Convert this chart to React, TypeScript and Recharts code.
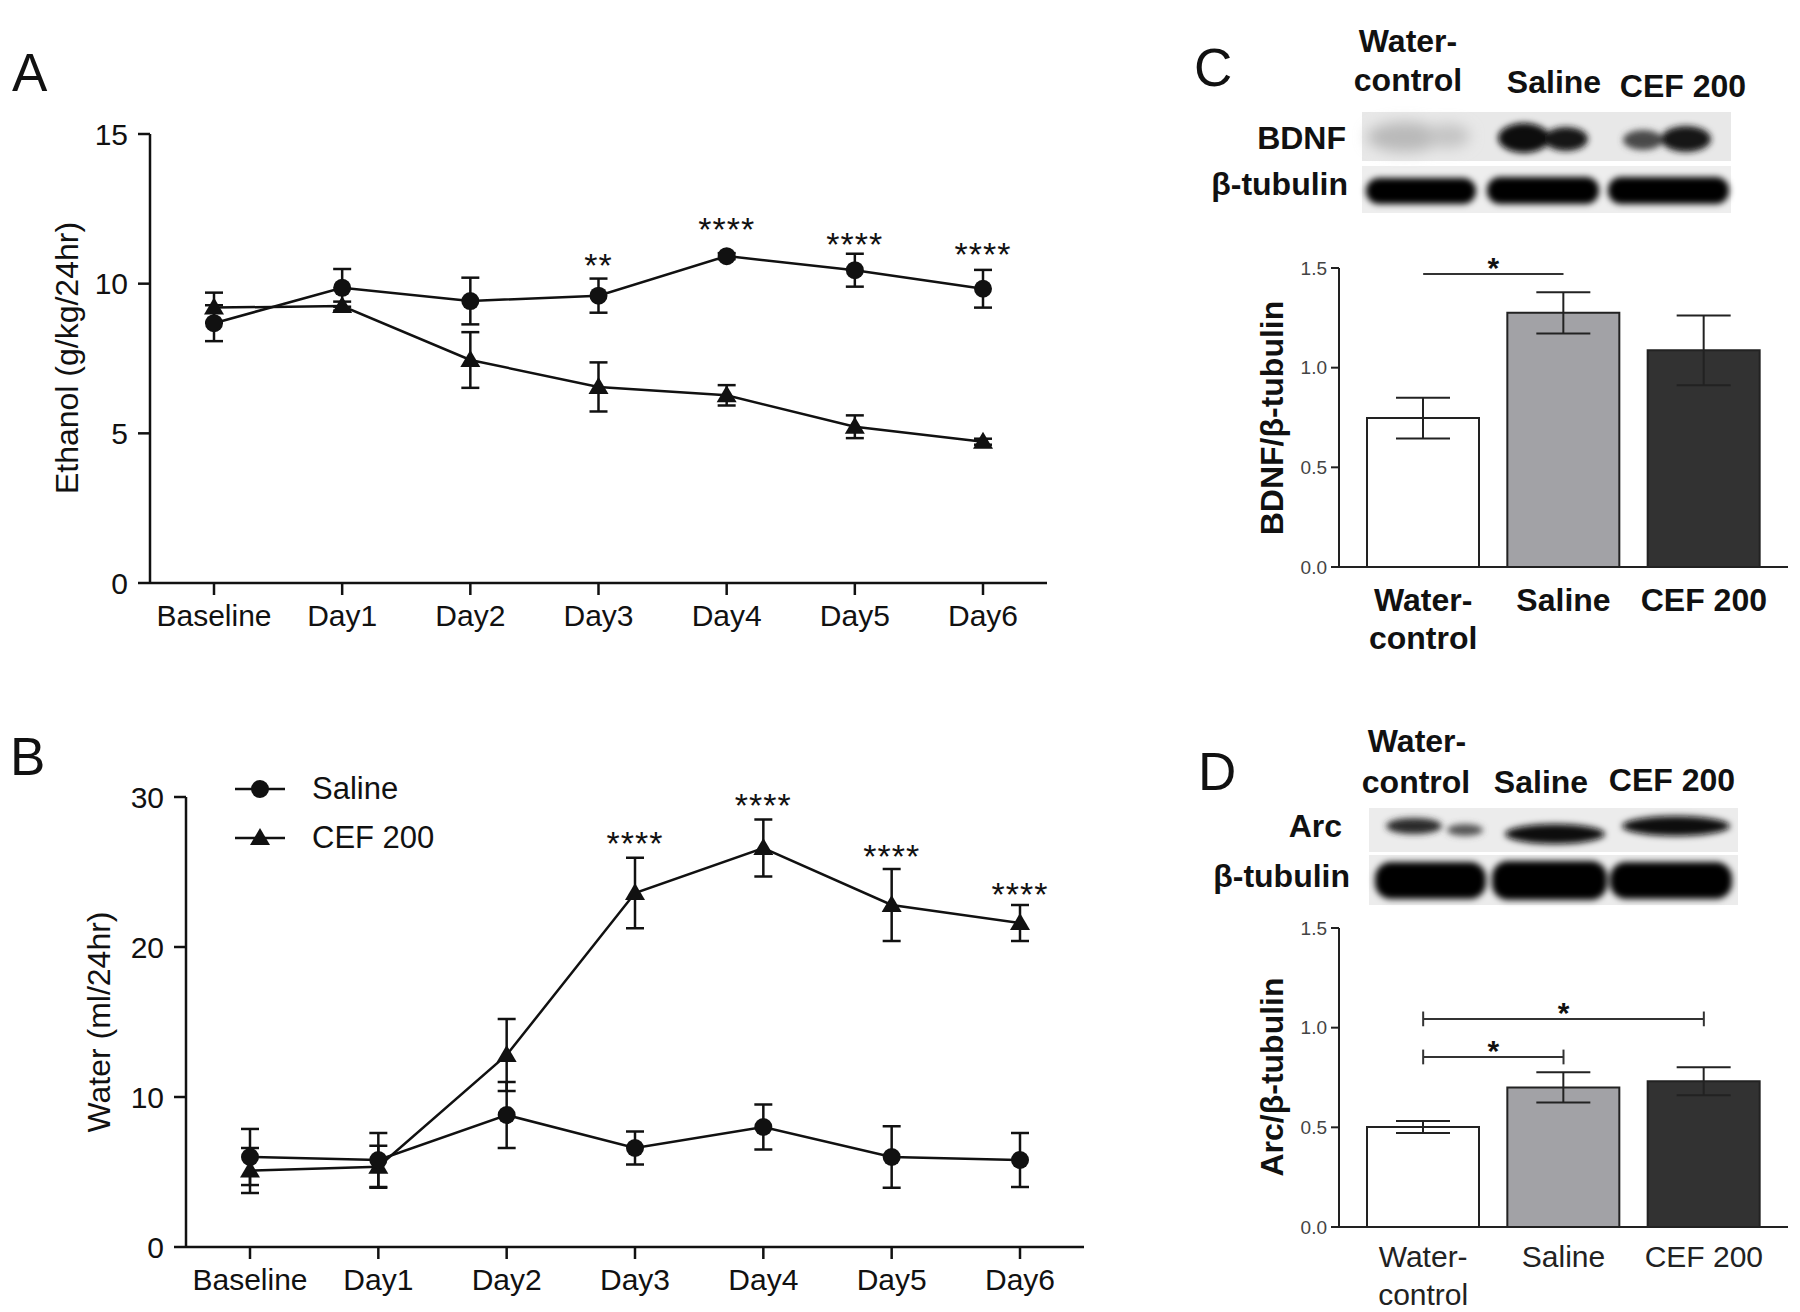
import React from 'react';
import {
  ComposedChart,
  BarChart,
  Bar,
  Line,
  XAxis,
  YAxis,
  ErrorBar,
  Cell,
  ReferenceLine,
  Legend,
} from 'recharts';

const FONT = '"Liberation Sans", Arial, Helvetica, sans-serif';
const INK = '#111';

// ---- A / B: daily intake ----
const days = ['Baseline', 'Day1', 'Day2', 'Day3', 'Day4', 'Day5', 'Day6'];

const ethanolSaline = [8.68, 9.86, 9.42, 9.6, 10.92, 10.45, 9.83];
const ethanolSalineSem = [0.6, 0.63, 0.78, 0.57, 0.1, 0.55, 0.63];
const ethanolCef = [9.2, 9.25, 7.45, 6.55, 6.27, 5.22, 4.72];
const ethanolCefSem = [0.5, 0.15, 0.93, 0.82, 0.34, 0.38, 0.1];
const ethanolStars = ['', '', '', '**', '****', '****', '****'];
const ethanolStarY = [null, null, null, 10.9, 12.1, 11.6, 11.25];

const waterSaline = [6.0, 5.8, 8.8, 6.6, 8.0, 6.0, 5.8];
const waterSalineSem = [1.87, 1.8, 2.2, 1.1, 1.5, 2.05, 1.8];
const waterCef = [5.1, 5.35, 12.8, 23.6, 26.6, 22.8, 21.6];
const waterCefSem = [1.5, 1.4, 2.4, 2.35, 1.9, 2.4, 1.2];
const waterStars = ['', '', '', '****', '****', '****', '****'];
const waterStarY = [null, null, null, 27.5, 30.0, 26.6, 24.05];

// ---- C / D: western blot quantification ----
const groups = ['Water-control', 'Saline', 'CEF 200'];
const groupFills = ['#ffffff', '#a2a2a6', '#323232'];
const bdnfRatio = [0.747, 1.275, 1.087];
const bdnfSem = [0.102, 0.103, 0.175];
const arcRatio = [0.502, 0.7, 0.731];
const arcSem = [0.03, 0.076, 0.07];

const bdnfBrackets = [{ from: 'Water-control', to: 'Saline', y: 1.47 }];
const arcBrackets = [
  { from: 'Water-control', to: 'CEF 200', y: 1.044 },
  { from: 'Water-control', to: 'Saline', y: 0.853 },
];

const ethanolData = days.map((day, i) => ({
  day,
  saline: ethanolSaline[i],
  salineSem: ethanolSalineSem[i],
  cef: ethanolCef[i],
  cefSem: ethanolCefSem[i],
  starY: ethanolStarY[i],
  stars: ethanolStars[i],
}));

const waterData = days.map((day, i) => ({
  day,
  saline: waterSaline[i],
  salineSem: waterSalineSem[i],
  cef: waterCef[i],
  cefSem: waterCefSem[i],
  starY: waterStarY[i],
  stars: waterStars[i],
}));

const bdnfData = groups.map((g, i) => ({ group: g, value: bdnfRatio[i], sem: bdnfSem[i] }));
const arcData = groups.map((g, i) => ({ group: g, value: arcRatio[i], sem: arcSem[i] }));

// markers
const CircleDot = (props: any) => {
  const { cx, cy, index } = props;
  if (cx == null || cy == null) return <g key={`c-${index}`} />;
  return <circle key={`c-${index}`} cx={cx} cy={cy} r={9} fill={INK} />;
};

const TriangleDot = (props: any) => {
  const { cx, cy, index } = props;
  if (cx == null || cy == null) return <g key={`t-${index}`} />;
  return (
    <path
      key={`t-${index}`}
      d={`M${cx},${cy - 10} L${cx + 10},${cy + 7} L${cx - 10},${cy + 7} Z`}
      fill={INK}
    />
  );
};

// significance stars drawn as the "dots" of an invisible series
const StarDot = (props: any) => {
  const { cx, cy, index, payload } = props;
  if (cx == null || cy == null || !payload?.stars) return <g key={`s-${index}`} />;
  return (
    <text
      key={`s-${index}`}
      x={cx}
      y={cy + 20}
      textAnchor="middle"
      fontSize={34}
      fontFamily={FONT}
      fill={INK}
      letterSpacing={1}
    >
      {payload.stars}
    </text>
  );
};

const lineTick = { fontSize: 30, fill: INK, fontFamily: FONT };
const axisStroke = { stroke: INK, strokeWidth: 2.5 };

const legendOrder = ['saline', 'cef'];

const LegendContent = (props: any) => {
  const items = (props.payload || [])
    .filter((p: any) => legendOrder.includes(p.dataKey))
    .sort((a: any, b: any) => legendOrder.indexOf(a.dataKey) - legendOrder.indexOf(b.dataKey));
  return (
    <div style={{ fontFamily: FONT, fontSize: 31, color: INK }}>
      {items.map((p: any) => (
        <div key={p.dataKey} style={{ display: 'flex', alignItems: 'center', height: 49 }}>
          <svg width={50} height={30}>
            <line x1={0} y1={15} x2={50} y2={15} stroke={INK} strokeWidth={2.5} />
            {p.dataKey === 'saline' ? (
              <circle cx={25} cy={15} r={9} fill={INK} />
            ) : (
              <path d="M25,5 L35,22 L15,22 Z" fill={INK} />
            )}
          </svg>
          <span style={{ marginLeft: 27 }}>{p.value}</span>
        </div>
      ))}
    </div>
  );
};

function IntakeChart({ data, domain, ticks, margin, height, legend }: any) {
  return (
    <ComposedChart width={1100} height={height} data={data} margin={margin}>
      <XAxis
        dataKey="day"
        height={60}
        padding={{ left: 64, right: 64 }}
        tick={lineTick}
        tickSize={12}
        tickMargin={10}
        axisLine={axisStroke}
        tickLine={axisStroke}
        interval={0}
      />
      <YAxis
        type="number"
        domain={domain}
        ticks={ticks}
        width={80}
        tick={lineTick}
        tickSize={12}
        tickMargin={10}
        axisLine={axisStroke}
        tickLine={axisStroke}
        interval={0}
      />
      {legend && (
        <Legend
          layout="horizontal"
          verticalAlign="middle"
          align="center"
          content={<LegendContent />}
          wrapperStyle={{ left: 235, top: 64, width: 320, height: 100 }}
        />
      )}
      <Line
        type="linear"
        dataKey="cef"
        name="CEF 200"
        stroke={INK}
        strokeWidth={2.5}
        dot={(p: any) => <TriangleDot {...p} />}
        activeDot={false}
        isAnimationActive={false}
      >
        <ErrorBar dataKey="cefSem" width={9} strokeWidth={2.5} stroke={INK} direction="y" />
      </Line>
      <Line
        type="linear"
        dataKey="saline"
        name="Saline"
        stroke={INK}
        strokeWidth={2.5}
        dot={(p: any) => <CircleDot {...p} />}
        activeDot={false}
        isAnimationActive={false}
      >
        <ErrorBar dataKey="salineSem" width={9} strokeWidth={2.5} stroke={INK} direction="y" />
      </Line>
      <Line
        dataKey="starY"
        stroke="none"
        legendType="none"
        dot={(p: any) => <StarDot {...p} />}
        activeDot={false}
        isAnimationActive={false}
      />
    </ComposedChart>
  );
}

const GroupTick = (props: any) => {
  const { x, y, payload, bold, first } = props;
  const lines = payload.value === 'Water-control' ? ['Water-', 'control'] : [payload.value];
  return (
    <text
      x={x}
      y={y}
      textAnchor="middle"
      fontFamily={FONT}
      fontSize={bold ? 32 : 30}
      fontWeight={bold ? 'bold' : 'normal'}
      fill={bold ? INK : '#222'}
    >
      {lines.map((l, i) => (
        <tspan key={l} x={x} dy={i === 0 ? first : 38}>
          {l}
        </tspan>
      ))}
    </text>
  );
};

function RatioChart({ data, brackets, margin, height, bold, first }: any) {
  const barAxis = { stroke: '#222', strokeWidth: 2 };
  return (
    <BarChart width={620} height={height} data={data} margin={margin}>
      <XAxis
        dataKey="group"
        height={80}
        padding={{ left: 14, right: 14 }}
        tickLine={false}
        tickSize={0}
        tickMargin={0}
        axisLine={barAxis}
        interval={0}
        tick={<GroupTick bold={bold} first={first} />}
      />
      <YAxis
        type="number"
        domain={[0, 1.5]}
        ticks={[0, 0.5, 1, 1.5]}
        tickFormatter={(v: number) => v.toFixed(1)}
        width={60}
        tickSize={8}
        tickMargin={4}
        axisLine={barAxis}
        tickLine={barAxis}
        tick={{ fontSize: 19, fill: '#444', fontFamily: FONT }}
        interval={0}
      />
      <Bar dataKey="value" barSize={112} stroke="#222" strokeWidth={2} isAnimationActive={false}>
        {data.map((d: any, i: number) => (
          <Cell key={d.group} fill={groupFills[i]} />
        ))}
        <ErrorBar dataKey="sem" width={27} strokeWidth={2} stroke="#222" direction="y" />
      </Bar>
      {brackets.map((b: any, i: number) => [
        <ReferenceLine
          key={`h-${i}`}
          segment={[{ x: b.from, y: b.y }, { x: b.to, y: b.y }]}
          stroke="#333"
          strokeWidth={2}
          label={{ value: '*', position: 'top', offset: -4, fontSize: 30, fontWeight: 'bold', fill: INK, fontFamily: FONT }}
        />,
        <ReferenceLine
          key={`l-${i}`}
          segment={[{ x: b.from, y: b.y - 0.037 }, { x: b.from, y: b.y + 0.037 }]}
          stroke="#333"
          strokeWidth={2}
        />,
        <ReferenceLine
          key={`r-${i}`}
          segment={[{ x: b.to, y: b.y - 0.037 }, { x: b.to, y: b.y + 0.037 }]}
          stroke="#333"
          strokeWidth={2}
        />,
      ])}
    </BarChart>
  );
}

function Blots() {
  const bold = { fontFamily: FONT, fontWeight: 'bold' as const, fontSize: 32, fill: INK };
  const letter = { fontFamily: FONT, fontSize: 53, fill: INK };
  const title = { fontFamily: FONT, fontSize: 32, fill: INK };
  return (
    <svg width={1800} height={1312} style={{ position: 'absolute', left: 0, top: 0, pointerEvents: 'none' }}>
      <defs>
        <filter id="soft" x="-20%" y="-50%" width="140%" height="200%">
          <feGaussianBlur stdDeviation="3" />
        </filter>
        <filter id="faint" x="-30%" y="-80%" width="160%" height="260%">
          <feGaussianBlur stdDeviation="7" />
        </filter>
      </defs>

      {/* panel letters */}
      <text x={12} y={91} {...letter}>A</text>
      <text x={10} y={775} {...letter}>B</text>
      <text x={1194} y={86} {...letter}>C</text>
      <text x={1198} y={790} {...letter}>D</text>

      {/* axis titles of A and B */}
      <text x={78} y={358} transform="rotate(-90 78 358)" textAnchor="middle" {...title}>
        Ethanol (g/kg/24hr)
      </text>
      <text x={110} y={1022} transform="rotate(-90 110 1022)" textAnchor="middle" {...title}>
        Water (ml/24hr)
      </text>

      {/* axis titles of C and D */}
      <text x={1283} y={418} transform="rotate(-90 1283 418)" textAnchor="middle" {...bold}>
        BDNF/β-tubulin
      </text>
      <text x={1283} y={1077} transform="rotate(-90 1283 1077)" textAnchor="middle" {...bold}>
        Arc/β-tubulin
      </text>

      {/* C blot */}
      <text x={1408} y={52} textAnchor="middle" {...bold}>Water-</text>
      <text x={1408} y={91} textAnchor="middle" {...bold}>control</text>
      <text x={1554} y={93} textAnchor="middle" {...bold}>Saline</text>
      <text x={1683} y={97} textAnchor="middle" {...bold}>CEF 200</text>
      <text x={1346} y={149} textAnchor="end" {...bold}>BDNF</text>
      <text x={1348} y={195} textAnchor="end" {...bold}>β-tubulin</text>
      <rect x={1362} y={112} width={369} height={49} fill="#e8e8e8" />
      <rect x={1362} y={166} width={369} height={47} fill="#eeeeee" />
      <g filter="url(#faint)">
        <ellipse cx={1405} cy={137} rx={38} ry={15} fill="#b9b9b9" />
        <ellipse cx={1448} cy={136} rx={22} ry={12} fill="#c4c4c4" />
      </g>
      <g filter="url(#soft)">
        <ellipse cx={1524} cy={138} rx={26} ry={15} fill="#080808" />
        <ellipse cx={1566} cy={139} rx={22} ry={12} fill="#141414" />
        <ellipse cx={1643} cy={140} rx={20} ry={10} fill="#4a4a4a" />
        <ellipse cx={1686} cy={139} rx={25} ry={13} fill="#151515" />
        <rect x={1366} y={178} width={110} height={26} rx={13} fill="#050505" />
        <rect x={1487} y={177} width={112} height={27} rx={13} fill="#050505" />
        <rect x={1608} y={177} width={121} height={27} rx={13} fill="#050505" />
      </g>

      {/* D blot */}
      <text x={1417} y={752} textAnchor="middle" {...bold}>Water-</text>
      <text x={1416} y={793} textAnchor="middle" {...bold}>control</text>
      <text x={1541} y={793} textAnchor="middle" {...bold}>Saline</text>
      <text x={1672} y={791} textAnchor="middle" {...bold}>CEF 200</text>
      <text x={1342} y={837} textAnchor="end" {...bold}>Arc</text>
      <text x={1350} y={887} textAnchor="end" {...bold}>β-tubulin</text>
      <rect x={1369} y={808} width={369} height={44} fill="#ececec" />
      <rect x={1369} y={855} width={369} height={50} fill="#ececec" />
      <g filter="url(#soft)">
        <ellipse cx={1414} cy={826} rx={28} ry={8} fill="#2c2c2c" />
        <ellipse cx={1465} cy={830} rx={18} ry={6} fill="#555" />
        <ellipse cx={1555} cy={834} rx={50} ry={10} fill="#0a0a0a" />
        <ellipse cx={1676} cy={826} rx={54} ry={10} fill="#0a0a0a" />
        <rect x={1375} y={862} width={111} height={37} rx={16} fill="#030303" />
        <rect x={1492} y={861} width={115} height={39} rx={16} fill="#030303" />
        <rect x={1610} y={862} width={122} height={37} rx={16} fill="#030303" />
      </g>
    </svg>
  );
}

export default function App() {
  return (
    <div
      style={{
        position: 'absolute',
        left: 0,
        top: 0,
        width: 1800,
        height: 1312,
        background: '#fff',
        fontFamily: FONT,
        overflow: 'hidden',
      }}
    >
      <div style={{ position: 'absolute', left: 0, top: 0 }}>
        <IntakeChart
          data={ethanolData}
          domain={[0, 15]}
          ticks={[0, 5, 10, 15]}
          height={680}
          margin={{ top: 134, right: 53, bottom: 37, left: 70 }}
        />
      </div>
      <div style={{ position: 'absolute', left: 0, top: 700 }}>
        <IntakeChart
          data={waterData}
          domain={[0, 30]}
          ticks={[0, 10, 20, 30]}
          height={612}
          margin={{ top: 97, right: 16, bottom: 5, left: 106 }}
          legend
        />
      </div>
      <div style={{ position: 'absolute', left: 1180, top: 230 }}>
        <RatioChart
          data={bdnfData}
          brackets={bdnfBrackets}
          height={450}
          margin={{ top: 38, right: 12, bottom: 33, left: 99 }}
          bold
          first={44}
        />
      </div>
      <div style={{ position: 'absolute', left: 1180, top: 900 }}>
        <RatioChart
          data={arcData}
          brackets={arcBrackets}
          height={412}
          margin={{ top: 28, right: 12, bottom: 5, left: 99 }}
          bold={false}
          first={40}
        />
      </div>
      <Blots />
    </div>
  );
}
